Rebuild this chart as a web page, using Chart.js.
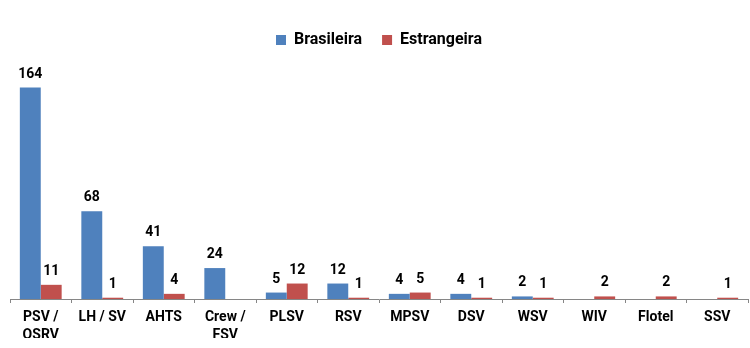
<!DOCTYPE html>
<html>
<head>
<meta charset="utf-8">
<script src="https://cdn.jsdelivr.net/npm/chart.js@4.4.0/dist/chart.umd.min.js"></script>
<style>
    html, body { margin: 0; padding: 0; background: #fff; overflow: hidden; }
    #clip { width: 750px; height: 338px; overflow: hidden; }
    #wrap { width: 750px; height: 350px; position: relative; }
</style>
</head>
<body>
<div id="clip">
    <div id="wrap"><canvas id="fleetChart"></canvas></div>
</div>
<script>
// Categories and values
const categories = [
    ['PSV /', 'OSRV'], 'LH / SV', 'AHTS', ['Crew /', 'FSV'], 'PLSV', 'RSV',
    'MPSV', 'DSV', 'WSV', 'WIV', 'Flotel', 'SSV'
];
const brasileira = [164, 68, 41, 24, 5, 12, 4, 4, 2, 0, 0, 0];
const estrangeira = [11, 1, 4, 0, 12, 1, 5, 1, 1, 2, 2, 1];
const yMax = 180;

const FONT = 'Roboto, "Open Sans", sans-serif';

// Value labels above each bar (skip empty ones)
const barLabels = {
    id: 'barLabels',
    afterDatasetsDraw(chart) {
        const ctx = chart.ctx;
        ctx.save();
        ctx.font = 'bold 14px ' + FONT;
        ctx.fillStyle = '#000';
        ctx.textAlign = 'center';
        ctx.textBaseline = 'alphabetic';
        chart.data.datasets.forEach((ds, i) => {
            const meta = chart.getDatasetMeta(i);
            meta.data.forEach((bar, j) => {
                const v = ds.data[j];
                if (!v) return;
                ctx.fillText(v, bar.x, bar.y - 10);
            });
        });
        ctx.restore();
    }
};

// Extra room under the legend
const legendSpace = {
    id: 'legendSpace',
    beforeInit(chart) {
        const origFit = chart.legend.fit;
        chart.legend.fit = function() {
            origFit.bind(chart.legend)();
            this.height = 55;
        };
    }
};

document.addEventListener('DOMContentLoaded', function() {
    const ctx = document.getElementById('fleetChart');
    new Chart(ctx, {
        type: 'bar',
        data: {
            labels: categories,
            datasets: [{
                label: 'Brasileira',
                data: brasileira,
                backgroundColor: '#4F81BD'
            }, {
                label: 'Estrangeira',
                data: estrangeira,
                backgroundColor: '#C0504D'
            }]
        },
        options: {
            responsive: true,
            maintainAspectRatio: false,
            animation: false,
            categoryPercentage: 0.68,
            barPercentage: 1.0,
            layout: {
                padding: { top: 12, left: 10, right: 2, bottom: 0 }
            },
            plugins: {
                legend: {
                    position: 'top',
                    labels: {
                        boxWidth: 10,
                        boxHeight: 10,
                        padding: 20,
                        color: '#000',
                        font: { family: FONT, size: 16, weight: 'bold' }
                    }
                },
                tooltip: { enabled: false }
            },
            scales: {
                x: {
                    grid: {
                        offset: true,
                        drawOnChartArea: false,
                        tickLength: 4,
                        color: '#868686'
                    },
                    border: { display: true, color: '#868686' },
                    ticks: {
                        color: '#000',
                        padding: 6,
                        maxRotation: 0,
                        autoSkip: false,
                        font: { family: FONT, size: 14, weight: 'bold', lineHeight: 1.25 }
                    }
                },
                y: {
                    display: false,
                    min: 0,
                    max: yMax
                }
            }
        },
        plugins: [barLabels, legendSpace]
    });
});
</script>
</body>
</html>
